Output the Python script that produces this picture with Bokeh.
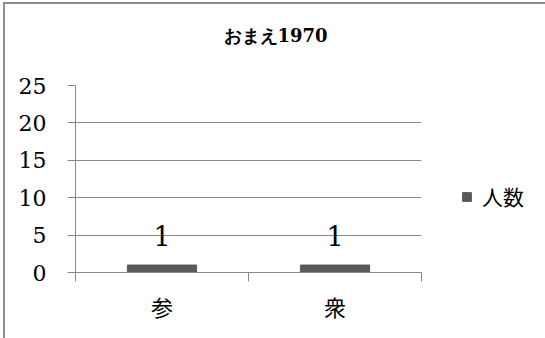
from bokeh.plotting import figure
from bokeh.models import ColumnDataSource, FixedTicker, LabelSet, Legend, LegendItem, Range1d
from bokeh.core.properties import value
from bokeh.embed import file_html
from bokeh.resources import INLINE

# ---- data ----
categories = ["参", "衆"]
counts = [1, 1]
series_name = "人数"
y_ticks = [0, 5, 10, 15, 20, 25]
title_text = "おまえ1970"

# ---- styles ----
GRAY = "#888888"
BAR = "#595959"
SERIF = "DejaVu Serif"
CJK = "Noto Sans CJK JP"

idx = [i + 0.5 for i in range(len(categories))]
bounds = list(range(len(categories) + 1))
src = ColumnDataSource(dict(x=idx, top=counts, label=[str(c) for c in counts]))

p = figure(output_backend="svg", toolbar_location=None,
           frame_width=346, frame_height=187,
           min_border_left=70, min_border_right=124,
           min_border_top=81, min_border_bottom=66,
           x_range=Range1d(0, len(categories)), y_range=Range1d(0, max(y_ticks)))
p.styles = {"margin-left": "3px", "margin-top": "2px",
            "border-top": "2px solid #8c8c8c", "border-left": "2px solid #8c8c8c"}
p.outline_line_color = None
p.background_fill_color = "white"
p.border_fill_color = "white"

r = p.vbar(x="x", top="top", width=0.4, source=src, fill_color=BAR, line_color=BAR)

labels = LabelSet(x="x", y="top", text="label", source=src, text_align="center",
                  text_baseline="alphabetic", y_offset=19,
                  text_font=value(SERIF), text_font_size="27px", text_color="black")
p.add_layout(labels)

# grid
p.xgrid.visible = False
p.ygrid.grid_line_color = GRAY
p.ygrid.ticker = FixedTicker(ticks=y_ticks)

# y axis
p.yaxis.ticker = FixedTicker(ticks=y_ticks)
p.yaxis.axis_line_color = GRAY
p.yaxis.major_tick_line_color = GRAY
p.yaxis.major_tick_out = 8
p.yaxis.major_tick_in = 0
p.yaxis.minor_tick_line_color = None
p.yaxis.major_label_standoff = 21
p.yaxis.major_label_text_font = SERIF
p.yaxis.major_label_text_font_size = "22px"
p.yaxis.major_label_text_color = "black"

# x axis
p.xaxis.ticker = FixedTicker(ticks=idx, minor_ticks=bounds)
p.xaxis.major_label_overrides = {v: c for v, c in zip(idx, categories)}
p.xaxis.axis_line_color = GRAY
p.xaxis.major_tick_line_color = None
p.xaxis.major_tick_out = 0
p.xaxis.major_tick_in = 0
p.xaxis.minor_tick_line_color = GRAY
p.xaxis.minor_tick_out = 9
p.xaxis.minor_tick_in = 0
p.xaxis.major_label_standoff = 8
p.xaxis.major_label_text_font = CJK
p.xaxis.major_label_text_font_size = "22px"
p.xaxis.major_label_text_color = "black"

# title (trailing blank line lifts it without enlarging the top border)
p.title.text = title_text + "\n"
p.title.align = "left"
p.title.offset = 148
p.title.vertical_align = "bottom"
p.title.standoff = 37
p.title.text_font = SERIF
p.title.text_font_size = "18px"
p.title.text_font_style = "bold"
p.title.text_color = "black"

# legend
legend = Legend(items=[LegendItem(label=series_name, renderers=[r])],
                location=(40, 61), glyph_width=11, glyph_height=11,
                label_standoff=10, padding=0, margin=0, spacing=0,
                label_text_font=CJK, label_text_font_size="21px", label_text_color="black",
                border_line_color=None, background_fill_alpha=0)
p.add_layout(legend, "right")

open("out.html", "w").write(file_html(p, INLINE))
